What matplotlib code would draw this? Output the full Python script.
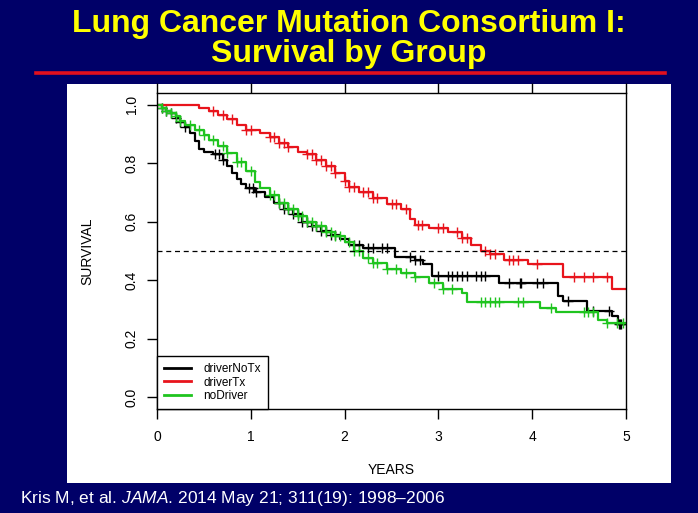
import numpy as np
import matplotlib
matplotlib.use("Agg")
import matplotlib.pyplot as plt
import matplotlib.patches as mpatches

plt.rcParams['font.family'] = ['Liberation Sans', 'DejaVu Sans']
plt.rcParams['mathtext.fontset'] = 'custom'
plt.rcParams['mathtext.it'] = 'Liberation Sans:italic'
plt.rcParams['mathtext.rm'] = 'Liberation Sans'

# ---- data (Kaplan-Meier knots: time, survival) ----
black_t = [0, 0.05, 0.1, 0.15, 0.2, 0.25, 0.3, 0.35, 0.4, 0.45, 0.5, 0.6, 0.7, 0.75, 0.8, 0.85,
           0.9, 0.95, 1.05, 1.15, 1.25, 1.35, 1.45, 1.55, 1.65, 1.75, 1.85, 1.95, 2.05, 2.2,
           2.54, 2.75, 2.84, 2.93, 3.65, 4.27, 4.33, 4.58, 4.85, 4.92]
black_s = [1.0, 0.99, 0.98, 0.97, 0.955, 0.94, 0.925, 0.905, 0.875, 0.85, 0.84, 0.83, 0.81, 0.79,
           0.765, 0.745, 0.73, 0.715, 0.70, 0.685, 0.665, 0.645, 0.625, 0.60, 0.585, 0.57, 0.555,
           0.54, 0.52, 0.51, 0.48, 0.47, 0.455, 0.415, 0.39, 0.345, 0.33, 0.295, 0.277, 0.25]

red_t = [0, 0.45, 0.55, 0.65, 0.75, 0.85, 0.95, 1.1, 1.2, 1.3, 1.4, 1.5, 1.6, 1.7, 1.8, 1.9,
         2.0, 2.05, 2.15, 2.3, 2.45, 2.6, 2.7, 2.75, 2.9, 3.1, 3.25, 3.35, 3.45, 3.55, 3.7,
         3.95, 4.33, 4.85]
red_s = [1.0, 0.99, 0.98, 0.965, 0.95, 0.93, 0.915, 0.905, 0.89, 0.87, 0.855, 0.84, 0.83, 0.81,
         0.79, 0.765, 0.74, 0.72, 0.70, 0.68, 0.66, 0.645, 0.61, 0.59, 0.58, 0.565, 0.545, 0.52,
         0.50, 0.49, 0.47, 0.455, 0.41, 0.37]

green_t = [0, 0.05, 0.1, 0.15, 0.2, 0.25, 0.3, 0.4, 0.5, 0.55, 0.65, 0.75, 0.85, 0.95, 1.05,
           1.1, 1.2, 1.3, 1.4, 1.5, 1.6, 1.7, 1.8, 1.9, 2.0, 2.1, 2.2, 2.3, 2.45, 2.6, 2.75,
           2.9, 3.05, 3.25, 3.3, 4.08, 4.25, 4.7, 4.8]
green_s = [1.0, 0.99, 0.98, 0.97, 0.96, 0.945, 0.93, 0.915, 0.895, 0.88, 0.86, 0.835, 0.805,
           0.775, 0.735, 0.715, 0.69, 0.665, 0.645, 0.62, 0.60, 0.585, 0.565, 0.55, 0.53, 0.50,
           0.475, 0.46, 0.44, 0.425, 0.41, 0.39, 0.37, 0.355, 0.325, 0.305, 0.29, 0.265, 0.255]

# censoring times (+ marks)
black_cens = [0.05, 0.1, 0.15, 0.2, 0.25, 0.3, 0.62, 0.66, 0.7, 0.98, 1.02, 1.06, 1.3, 1.35,
              1.4, 1.45, 1.5, 1.55, 1.6, 1.65, 1.7, 1.75, 1.8, 1.85, 1.9, 2.1, 2.15, 2.25, 2.3,
              2.4, 2.45, 2.7, 2.75, 2.8, 3.0, 3.1, 3.15, 3.2, 3.25, 3.3, 3.4, 3.45, 3.5, 3.75,
              3.87, 3.88, 4.05, 4.12, 4.38, 4.65, 4.82, 4.93, 4.94, 4.95]
red_cens = [0.6, 0.7, 0.8, 0.95, 1.0, 1.2, 1.25, 1.3, 1.35, 1.4, 1.6, 1.65, 1.7, 1.75, 1.8,
            1.85, 1.9, 2.0, 2.05, 2.1, 2.2, 2.25, 2.3, 2.35, 2.5, 2.55, 2.65, 2.78, 2.82, 3.0,
            3.05, 3.2, 3.25, 3.3, 3.5, 3.55, 3.6, 3.75, 3.8, 3.85, 4.05, 4.45, 4.55, 4.65, 4.8]
green_cens = [0.05, 0.1, 0.15, 0.2, 0.25, 0.35, 0.45, 0.5, 0.6, 0.7, 0.75, 0.85, 0.9, 1.0,
              1.2, 1.25, 1.3, 1.35, 1.4, 1.45, 1.5, 1.55, 1.6, 1.65, 1.7, 1.75, 1.8, 1.85, 1.9,
              1.95, 2.05, 2.1, 2.15, 2.25, 2.3, 2.35, 2.45, 2.55, 2.65, 2.75, 2.95, 3.05, 3.15,
              3.45, 3.5, 3.55, 3.6, 3.65, 3.85, 3.9, 4.2, 4.55, 4.6, 4.65, 4.8, 4.9, 4.97]

groups = ['driverNoTx', 'driverTx', 'noDriver']
colors = ['black', '#e8141c', '#1fc41f']

navy = '#000068'
fig = plt.figure(figsize=(6.98, 5.13), dpi=100, facecolor=navy)

W, H = 698.0, 513.0
# white panel behind the plot
fig.patches.append(mpatches.Rectangle((67 / W, 1 - 483 / H), 604 / W, 399 / H,
                                      transform=fig.transFigure, facecolor='white',
                                      edgecolor='none', zorder=-5))
# red rule under the title
fig.add_artist(plt.Line2D([36 / W, 665 / W], [1 - 73 / H, 1 - 73 / H], color='#e3101e',
                          lw=2.6, transform=fig.transFigure))

fig.text(349 / W, 1 - 32 / H, 'Lung Cancer Mutation Consortium I:', color='#ffff00',
         fontsize=23, fontweight='bold', ha='center', va='baseline')
fig.text(349 / W, 1 - 62 / H, 'Survival by Group', color='#ffff00',
         fontsize=23, fontweight='bold', ha='center', va='baseline')

fig.text(20 / W, 1 - 499 / H, 'Kris M, et al. $\\it{JAMA}$. 2014 May 21; 311(19): 1998\u20132006',
         color='white', fontsize=12.5, va='center')

ax = fig.add_axes([157 / W, 1 - 409 / H, 469 / W, 316 / H], zorder=2)
ax.set_facecolor('white')

for t, s, cens, c, lab in zip([black_t, red_t, green_t], [black_s, red_s, green_s],
                              [black_cens, red_cens, green_cens], colors, groups):
    tt = list(t) + [5.0]
    ss = list(s) + [s[-1]]
    ax.plot(tt, ss, drawstyle='steps-post', color=c, lw=1.6, label=lab)
    idx = np.searchsorted(t, cens, side='right') - 1
    ax.plot(cens, np.array(s)[idx], ls='none', marker='+', ms=7.5, mew=1.0, color=c)

ax.axhline(0.5, color='black', lw=0.9, ls=(0, (4, 3)))

ax.set_xlim(0, 5)
ax.set_ylim(-0.04, 1.04)
ax.set_xticks([0, 1, 2, 3, 4, 5])
ax.set_yticks([0.0, 0.2, 0.4, 0.6, 0.8, 1.0])
ax.set_yticklabels(['0.0', '0.2', '0.4', '0.6', '0.8', '1.0'], rotation=90, va='center')
ax.tick_params(axis='both', direction='out', length=7, width=1, labelsize=10, pad=8,
               top=True, labeltop=False)
ax.tick_params(axis='y', pad=6)
for sp in ax.spines.values():
    sp.set_linewidth(1.0)

ax.set_xlabel('YEARS', fontsize=10, labelpad=14)
ax.set_ylabel('SURVIVAL', fontsize=10, labelpad=22)

leg = ax.legend(loc='lower left', borderaxespad=0, fancybox=False, edgecolor='black',
                fontsize=8.5, handlelength=2.3, handletextpad=1.0, labelspacing=0.12,
                borderpad=0.6, framealpha=1)
leg.get_frame().set_linewidth(1.0)
for h in leg.get_lines():
    h.set_linewidth(2.0)

fig.savefig('out.png', dpi=100, facecolor=navy)
